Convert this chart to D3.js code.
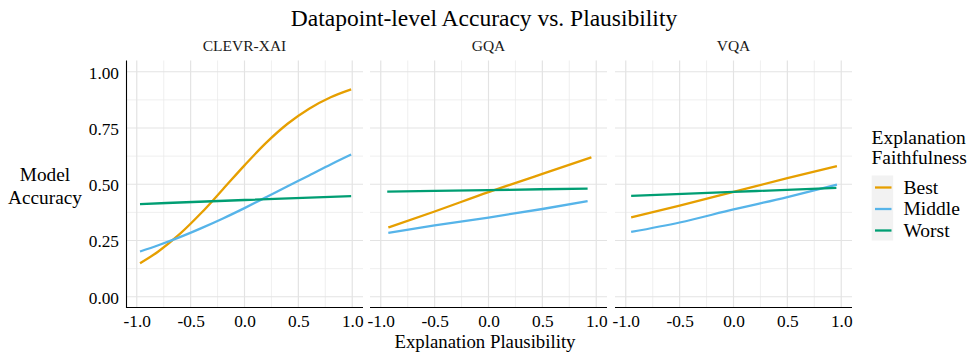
<!DOCTYPE html>
<html>
<head>
<meta charset="utf-8">
<script src="https://cdn.jsdelivr.net/npm/d3@7"></script>
<style>
  html, body { margin: 0; padding: 0; background: #ffffff; }
  svg { display: block; }
  svg text { font-family: "Liberation Serif", "Times New Roman", serif !important; }
</style>
</head>
<body>
<svg id="chart" width="972" height="353"></svg>
<script>
// ---------- data ----------
const facets = ["CLEVR-XAI", "GQA", "VQA"];
const groups = ["Best", "Middle", "Worst"];
const groupColors = ["#E69F00", "#56B4E9", "#009E73"];
const xTicks = [-1.0, -0.5, 0.0, 0.5, 1.0];
const xMinor = [-0.75, -0.25, 0.25, 0.75];
const yTicks = [0.00, 0.25, 0.50, 0.75, 1.00];
const yMinor = [0.125, 0.375, 0.625, 0.875];

// [plausibility, accuracy]
const clevrBest   = [[-0.97,0.149],[-0.8,0.201],[-0.6,0.279],[-0.4,0.373],[-0.2,0.478],[0,0.584],[0.2,0.684],[0.4,0.769],[0.6,0.836],[0.8,0.887],[0.99,0.922]];
const clevrMiddle = [[-0.97,0.201],[-0.8,0.229],[-0.6,0.265],[-0.4,0.305],[-0.2,0.348],[0,0.394],[0.2,0.442],[0.4,0.491],[0.6,0.539],[0.8,0.588],[0.99,0.632]];
const clevrWorst  = [[-0.97,0.412],[0,0.430],[0.99,0.447]];
const gqaBest     = [[-0.93,0.308],[-0.5,0.379],[0,0.465],[0.5,0.546],[0.955,0.620]];
const gqaMiddle   = [[-0.93,0.284],[-0.5,0.317],[0,0.352],[0.5,0.390],[0.92,0.425]];
const gqaWorst    = [[-0.94,0.467],[0,0.474],[0.92,0.481]];
const vqaBest     = [[-0.95,0.353],[-0.5,0.405],[0,0.466],[0.5,0.527],[0.96,0.581]];
const vqaMiddle   = [[-0.95,0.288],[-0.5,0.330],[0,0.388],[0.5,0.443],[0.96,0.498]];
const vqaWorst    = [[-0.95,0.448],[0,0.466],[0.955,0.484]];

const seriesByFacet = [
  [clevrBest, clevrMiddle, clevrWorst],
  [gqaBest, gqaMiddle, gqaWorst],
  [vqaBest, vqaMiddle, vqaWorst]
];

const titleText = "Datapoint-level Accuracy vs. Plausibility";
const xTitle = "Explanation Plausibility";
const yTitleLines = ["Model", "Accuracy"];
const legendTitleLines = ["Explanation", "Faithfulness"];

// ---------- layout ----------
const SERIF = "'Liberation Serif', 'Times New Roman', serif";
const svg = d3.select("#chart");
const panelX0 = [126, 370, 615];
const panelW = 237;
const panelTop = 60.5, panelBottom = 308;

const y = d3.scaleLinear().domain([-0.05, 1.05]).range([panelBottom, panelTop]);
const color = d3.scaleOrdinal().domain(groups).range(groupColors);
const fmtX = d => d3.format(".1f")(d).replace("\u2212", "-");
const fmtY = d => d3.format(".2f")(d).replace("\u2212", "-");

// title
svg.append("text")
  .attr("x", 484).attr("y", 26)
  .attr("text-anchor", "middle")
  .attr("font-size", 23.5)
  .attr("fill", "#000")
  .text(titleText);

facets.forEach((name, i) => {
  const x0 = panelX0[i];
  const x = d3.scaleLinear().domain([-1.1, 1.1]).range([x0, x0 + panelW]);
  const g = svg.append("g");

  // minor grid
  g.selectAll(".vminor").data(xMinor).join("line")
    .attr("x1", d => x(d)).attr("x2", d => x(d))
    .attr("y1", panelTop).attr("y2", panelBottom)
    .attr("stroke", "#ebebeb").attr("stroke-width", 0.8);
  g.selectAll(".hminor").data(yMinor).join("line")
    .attr("x1", x0).attr("x2", x0 + panelW)
    .attr("y1", d => y(d)).attr("y2", d => y(d))
    .attr("stroke", "#ebebeb").attr("stroke-width", 0.8);
  // major grid
  g.selectAll(".vmajor").data(xTicks).join("line")
    .attr("x1", d => x(d)).attr("x2", d => x(d))
    .attr("y1", panelTop).attr("y2", panelBottom)
    .attr("stroke", "#e3e3e3").attr("stroke-width", 1.2);
  g.selectAll(".hmajor").data(yTicks).join("line")
    .attr("x1", x0).attr("x2", x0 + panelW)
    .attr("y1", d => y(d)).attr("y2", d => y(d))
    .attr("stroke", "#e3e3e3").attr("stroke-width", 1.2);

  // strip label
  svg.append("text")
    .attr("x", x0 + panelW / 2).attr("y", 50.5)
    .attr("text-anchor", "middle")
    .attr("font-size", 15.5)
    .attr("fill", "#1a1a1a")
    .text(name);

  // lines
  const line = d3.line().x(d => x(d[0])).y(d => y(d[1])).curve(d3.curveMonotoneX);
  seriesByFacet[i].forEach((s, k) => {
    g.append("path")
      .attr("d", line(s))
      .attr("fill", "none")
      .attr("stroke", color(groups[k]))
      .attr("stroke-width", 2.3)
      .attr("stroke-linecap", "butt");
  });

  // x axis
  const xAxis = d3.axisBottom(x).tickValues(xTicks).tickFormat(fmtX).tickSize(0).tickPadding(7);
  const ax = svg.append("g").attr("transform", `translate(0,${panelBottom - 0.5})`).call(xAxis)
    .attr("font-family", SERIF).attr("font-size", 17.3);
  ax.select(".domain").attr("stroke", "#000").attr("stroke-width", 1.1)
    .attr("d", `M${x0},0H${x0 + panelW}`);
  ax.selectAll("text").attr("fill", "#000").style("font-family", SERIF).style("font-size", "17.3px");

  if (i === 0) {
    const yAxis = d3.axisLeft(y).tickValues(yTicks).tickFormat(fmtY).tickSize(0).tickPadding(7.5);
    const ay = svg.append("g").attr("transform", `translate(${x0 + 0.5},0)`).call(yAxis)
      .attr("font-family", SERIF).attr("font-size", 17.3);
    ay.select(".domain").attr("stroke", "#000").attr("stroke-width", 1.1)
      .attr("d", `M0,${panelTop}V${panelBottom}`);
    ay.selectAll("text").attr("fill", "#000").attr("dy", "0.37em")
      .style("font-family", SERIF).style("font-size", "17.3px");
  }
});

// axis titles
svg.append("text")
  .attr("x", 485).attr("y", 348)
  .attr("text-anchor", "middle")
  .attr("font-size", 18.8)
  .attr("fill", "#000")
  .text(xTitle);

svg.append("text")
  .attr("text-anchor", "middle")
  .attr("font-size", 19.3)
  .attr("fill", "#000")
  .selectAll("tspan").data(yTitleLines).join("tspan")
  .attr("x", 45)
  .attr("y", (d, i) => 180.5 + i * 23.5)
  .text(d => d);

// legend
const legend = svg.append("g");
legend.append("text")
  .attr("font-size", 19.5).attr("fill", "#000")
  .selectAll("tspan").data(legendTitleLines).join("tspan")
  .attr("x", 871.5)
  .attr("y", (d, i) => 143.5 + i * 20)
  .text(d => d);

legend.append("rect")
  .attr("x", 871.7).attr("y", 175.5)
  .attr("width", 21.5).attr("height", 65)
  .attr("fill", "#f2f2f2");

const keyY = d3.scalePoint().domain(groups).range([187.5, 230.5]);
groups.forEach(gname => {
  legend.append("line")
    .attr("x1", 875).attr("x2", 891.5)
    .attr("y1", keyY(gname)).attr("y2", keyY(gname))
    .attr("stroke", color(gname)).attr("stroke-width", 2.3);
  legend.append("text")
    .attr("x", 903.5).attr("y", keyY(gname) + 6)
    .attr("font-size", 19.5).attr("fill", "#000")
    .text(gname);
});
</script>
</body>
</html>
